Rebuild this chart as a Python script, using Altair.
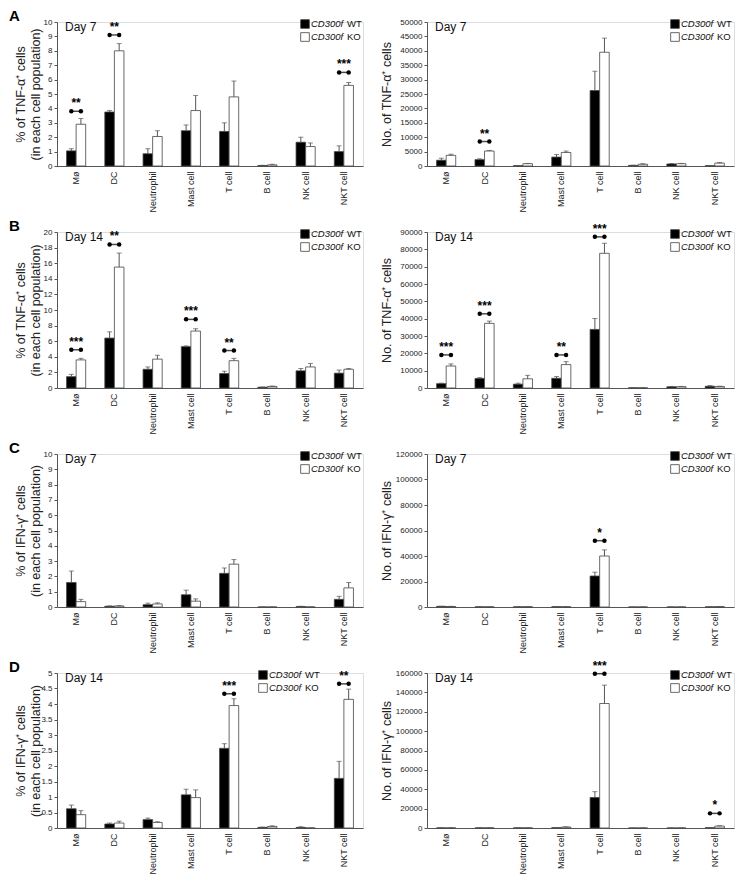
import altair as alt
import pandas as pd

cats = ["Mø", "DC", "Neutrophil", "Mast cell", "T cell", "B cell", "NK cell", "NKT cell"]
groups = ["WT", "KO"]

# Panel A left: % TNF-a+ day 7
a_pct_wt = [1.05, 3.75, 0.85, 2.45, 2.4, 0.03, 1.65, 1.0]
a_pct_wt_err = [0.15, 0.1, 0.35, 0.4, 0.6, 0.02, 0.35, 0.4]
a_pct_ko = [2.9, 8.0, 2.05, 3.85, 4.8, 0.08, 1.35, 5.6]
a_pct_ko_err = [0.4, 0.5, 0.4, 1.05, 1.1, 0.04, 0.25, 0.2]
a_pct_sig = [("Mø", "**", 3.8), ("DC", "**", 9.1), ("NKT cell", "***", 6.5)]

# Panel A right: No. TNF-a+ day 7
a_no_wt = [2000, 2200, 100, 3100, 26200, 200, 700, 100]
a_no_wt_err = [700, 300, 50, 900, 6700, 100, 150, 50]
a_no_ko = [3700, 5200, 800, 4700, 39500, 600, 800, 1000]
a_no_ko_err = [400, 200, 100, 500, 4900, 200, 100, 200]
a_no_sig = [("DC", "**", 8500)]

# Panel B left: % TNF-a+ day 14
b_pct_wt = [1.45, 6.4, 2.4, 5.3, 1.85, 0.1, 2.2, 1.9]
b_pct_wt_err = [0.3, 0.8, 0.3, 0.1, 0.3, 0.03, 0.3, 0.4]
b_pct_ko = [3.6, 15.5, 3.7, 7.3, 3.5, 0.2, 2.7, 2.4]
b_pct_ko_err = [0.2, 1.8, 0.5, 0.3, 0.3, 0.05, 0.45, 0.1]
b_pct_sig = [("Mø", "***", 4.9), ("DC", "**", 18.4), ("Mast cell", "***", 8.8), ("T cell", "**", 4.8)]

# Panel B right: No. TNF-a+ day 14
b_no_wt = [2500, 5500, 2200, 5600, 33800, 100, 700, 1000]
b_no_wt_err = [300, 500, 600, 1000, 6300, 50, 200, 400]
b_no_ko = [12700, 37300, 5300, 13500, 77700, 100, 800, 900]
b_no_ko_err = [1200, 1300, 2000, 1700, 5800, 50, 100, 100]
b_no_sig = [("Mø", "***", 19100), ("DC", "***", 42800), ("Mast cell", "**", 19100), ("T cell", "***", 87200)]

# Panel C left: % IFN-g+ day 7
c_pct_wt = [1.6, 0.05, 0.15, 0.8, 2.2, 0.0, 0.03, 0.5]
c_pct_wt_err = [0.75, 0.02, 0.1, 0.3, 0.35, 0.0, 0.02, 0.2]
c_pct_ko = [0.35, 0.07, 0.2, 0.38, 2.8, 0.0, 0.0, 1.25]
c_pct_ko_err = [0.15, 0.02, 0.07, 0.15, 0.3, 0.0, 0.0, 0.35]
c_pct_sig = []

# Panel C right: No. IFN-g+ day 7
c_no_wt = [500, 100, 100, 200, 24300, 0, 0, 100]
c_no_wt_err = [100, 50, 50, 50, 3000, 0, 0, 50]
c_no_ko = [400, 100, 200, 200, 40000, 0, 0, 300]
c_no_ko_err = [100, 50, 50, 50, 4800, 0, 0, 50]
c_no_sig = [("T cell", "*", 52000)]

# Panel D left: % IFN-g+ day 14
d_pct_wt = [0.62, 0.13, 0.27, 1.07, 2.57, 0.02, 0.02, 1.6]
d_pct_wt_err = [0.12, 0.03, 0.05, 0.18, 0.15, 0.01, 0.02, 0.55]
d_pct_ko = [0.43, 0.16, 0.18, 0.98, 3.95, 0.05, 0.0, 4.15]
d_pct_ko_err = [0.13, 0.06, 0.02, 0.25, 0.22, 0.02, 0.0, 0.33]
d_pct_sig = [("T cell", "***", 4.33), ("NKT cell", "**", 4.65)]

# Panel D right: No. IFN-g+ day 14
d_no_wt = [100, 100, 100, 300, 31500, 0, 0, 300]
d_no_wt_err = [50, 50, 50, 100, 6000, 0, 0, 100]
d_no_ko = [100, 100, 100, 1000, 128500, 0, 0, 2000]
d_no_ko_err = [50, 50, 50, 200, 19000, 0, 0, 300]
d_no_sig = [("T cell", "***", 159300), ("NKT cell", "*", 15100)]

FONT = "Liberation Sans"
GREY = "#555555"


def one():
    return alt.Chart(alt.Data(values=[{"k": 0}]))


def panel(wt, wte, ko, koe, ymax, ystep, ytitle, day, letter, sig, legx, width, height, left):
    rows = []
    for i, c in enumerate(cats):
        rows.append({"cat": c, "group": "WT", "mean": wt[i], "top": wt[i] + wte[i]})
        rows.append({"cat": c, "group": "KO", "mean": ko[i], "top": ko[i] + koe[i]})
    df = pd.DataFrame(rows)
    n = int(round(ymax / ystep))
    ticks = [round(ystep * k, 4) for k in range(n + 1)]
    fmt = "~g" if ystep < 1 else "d"
    ext = 15 if left else 31

    xaxis = alt.Axis(labelAngle=-90, ticks=False, labelFontSize=9, labelPadding=5,
                     domainColor=GREY, labelColor="#222")
    xscale = alt.Scale(paddingInner=0.5, paddingOuter=0.25)

    def X():
        return alt.X("cat:N", sort=cats, title=None, scale=xscale, axis=xaxis)

    xoff = alt.XOffset("group:N", sort=groups, scale=alt.Scale(domain=groups))
    yscale = alt.Scale(domain=[0, ymax], nice=False)
    yaxis = alt.Axis(values=ticks, format=fmt, grid=False, tickSize=3, labelFontSize=8,
                     labelOverlap=False, labelFlush=False, tickCount=n + 1,
                     titleFontSize=12.5, titleFontWeight="normal", domainColor=GREY,
                     tickColor=GREY, labelColor="#222", titleColor="#222", labelPadding=2,
                     titlePadding=0 if left else 3, minExtent=ext, maxExtent=ext)

    def Y(field):
        return alt.Y(field, scale=yscale, title=ytitle, axis=yaxis)

    base = alt.Chart(df).encode(x=X(), xOffset=xoff)
    bars = base.mark_bar(stroke="#444444", strokeWidth=0.8).encode(
        y=Y("mean:Q"),
        fill=alt.Fill("group:N", scale=alt.Scale(domain=groups, range=["black", "white"]), legend=None),
    )
    errs = base.mark_rule(color=GREY, strokeWidth=1).encode(y=Y("mean:Q"), y2="top:Q")
    caps = base.mark_tick(color=GREY, size=5, thickness=1, orient="horizontal").encode(y=Y("top:Q"))
    layers = [bars, errs, caps]

    barw = width / 8.0 * 0.5 / 2.0
    if sig:
        sdf = pd.DataFrame([{"cat": c, "stars": s, "level": l} for c, s, l in sig])
        sdf2 = pd.DataFrame([{"cat": c, "group": g, "level": l} for c, s, l in sig for g in groups])
        brack = alt.Chart(sdf).mark_tick(color="black", size=barw + 1, thickness=1.5,
                                         orient="horizontal").encode(x=X(), y=Y("level:Q"))
        dots = alt.Chart(sdf2).mark_circle(color="black", size=20, opacity=1).encode(
            x=X(), xOffset=xoff, y=Y("level:Q"))
        stars = alt.Chart(sdf).mark_text(fontSize=12, font=FONT, fontWeight="bold", dy=-8,
                                         baseline="middle").encode(
            x=X(), y=Y("level:Q"), text="stars:N")
        layers += [brack, dots, stars]

    daytxt = one().mark_text(text=day, fontSize=12, font=FONT, align="left", baseline="middle",
                             color="#111").encode(x=alt.value(8), y=alt.value(5))
    layers.append(daytxt)
    # legend
    for j, (lab, fillc) in enumerate([("WT", "black"), ("KO", "white")]):
        yy = 2 + j * 13
        layers.append(one().mark_square(size=75, fill=fillc, stroke="#444444", strokeWidth=0.8,
                                        opacity=1).encode(x=alt.value(legx), y=alt.value(yy)))
        layers.append(one().mark_text(text="CD300f", fontSize=9.5, font=FONT, fontStyle="italic",
                                      align="left", baseline="middle", color="#111").encode(
            x=alt.value(legx + 6), y=alt.value(yy)))
        layers.append(one().mark_text(text=lab, fontSize=9.5, font=FONT, align="left",
                                      baseline="middle", color="#111").encode(
            x=alt.value(legx + 42), y=alt.value(yy)))
    if letter:
        layers.append(one().mark_text(text=letter, fontSize=15, font=FONT, fontWeight="bold",
                                      align="left", baseline="middle", color="black").encode(
            x=alt.value(-48), y=alt.value(-6)))
    return alt.layer(*layers).properties(width=width, height=height)


pct_tnf = ["% of TNF-α⁺ cells", "(in each cell population)"]
pct_ifn = ["% of IFN-γ⁺ cells", "(in each cell population)"]
no_tnf = "No. of TNF-α⁺ cells"
no_ifn = "No. of IFN-γ⁺ cells"

LW, RW = 306, 307
HS = 15
rowA = alt.hconcat(
    panel(a_pct_wt, a_pct_wt_err, a_pct_ko, a_pct_ko_err, 10, 1, pct_tnf, "Day 7", "A", a_pct_sig, 248, LW, 144, True),
    panel(a_no_wt, a_no_wt_err, a_no_ko, a_no_ko_err, 50000, 5000, no_tnf, "Day 7", None, a_no_sig, 248, RW, 144, False),
    spacing=HS)
rowB = alt.hconcat(
    panel(b_pct_wt, b_pct_wt_err, b_pct_ko, b_pct_ko_err, 20, 2, pct_tnf, "Day 14", "B", b_pct_sig, 248, LW, 156, True),
    panel(b_no_wt, b_no_wt_err, b_no_ko, b_no_ko_err, 90000, 10000, no_tnf, "Day 14", None, b_no_sig, 248, RW, 156, False),
    spacing=HS)
rowC = alt.hconcat(
    panel(c_pct_wt, c_pct_wt_err, c_pct_ko, c_pct_ko_err, 10, 1, pct_ifn, "Day 7", "C", c_pct_sig, 248, LW, 153, True),
    panel(c_no_wt, c_no_wt_err, c_no_ko, c_no_ko_err, 120000, 20000, no_ifn, "Day 7", None, c_no_sig, 248, RW, 153, False),
    spacing=HS)
rowD = alt.hconcat(
    panel(d_pct_wt, d_pct_wt_err, d_pct_ko, d_pct_ko_err, 5, 0.5, pct_ifn, "Day 14", "D", d_pct_sig, 206, LW, 155, True),
    panel(d_no_wt, d_no_wt_err, d_no_ko, d_no_ko_err, 160000, 20000, no_ifn, "Day 14", None, d_no_sig, 248, RW, 155, False),
    spacing=HS)

chart = alt.vconcat(rowA, rowB, rowC, rowD, spacing=5).configure_view(stroke=None).configure(
    font=FONT, padding=0
)

chart.save("out.html", embed_options={"renderer": "svg", "actions": False})
